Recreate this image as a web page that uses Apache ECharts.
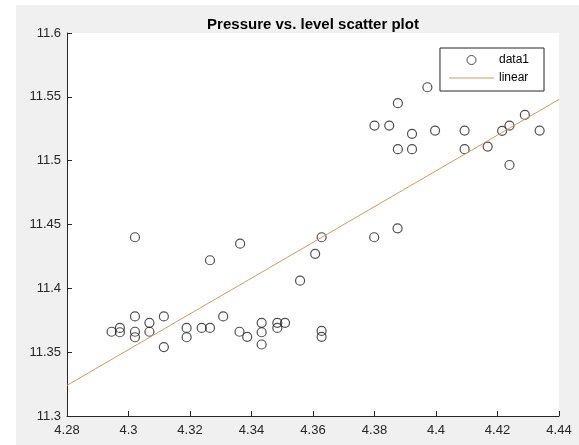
<!DOCTYPE html>
<html>
<head>
<meta charset="utf-8">
<script src="https://cdn.jsdelivr.net/npm/echarts@6/dist/echarts.min.js"></script>
<style>
    html, body { margin: 0; padding: 0; background: #fff; }
    #chart { position: absolute; left: 16px; top: 5px; width: 563px; height: 440px; }
</style>
</head>
<body>
<div id="chart"></div>
<script>
// level (x) vs pressure (y)
var levelData = [
    4.2945, 4.2972, 4.2972, 4.3021, 4.3021, 4.3021, 4.3021, 4.3068, 4.3068, 4.3115,
    4.3115, 4.3189, 4.3189, 4.3238, 4.3265, 4.3265, 4.3308, 4.3363, 4.3361, 4.3386,
    4.3433, 4.3433, 4.3433, 4.3484, 4.3484, 4.3509, 4.3558, 4.3607, 4.3628, 4.3628,
    4.3628, 4.3799, 4.3800, 4.3848, 4.3875, 4.3876, 4.3876, 4.3922, 4.3922, 4.3972,
    4.3997, 4.4093, 4.4093, 4.4168, 4.4215, 4.4239, 4.4239, 4.4289, 4.4337
];
var pressureData = [
    11.366, 11.369, 11.3656, 11.440, 11.378, 11.366, 11.3617, 11.373, 11.366, 11.378,
    11.354, 11.369, 11.3617, 11.369, 11.369, 11.422, 11.378, 11.435, 11.366, 11.362,
    11.373, 11.3656, 11.356, 11.373, 11.369, 11.373, 11.406, 11.427, 11.440, 11.3666,
    11.362, 11.440, 11.5275, 11.5275, 11.447, 11.545, 11.509, 11.521, 11.509, 11.5575,
    11.5236, 11.5236, 11.509, 11.511, 11.5234, 11.5275, 11.4966, 11.5358, 11.5236
];
// linear fit end points
var fitX = [4.28, 4.44];
var fitY = [11.324, 11.548];

var xTicks = { min: 4.28, max: 4.44, interval: 0.02 };
var yTicks = { min: 11.3, max: 11.6, interval: 0.05 };

var chart = echarts.init(document.getElementById('chart'));

var scatterPoints = levelData.map(function(x, i) {
    return [x, pressureData[i]];
});
var fitLine = fitX.map(function(x, i) {
    return [x, fitY[i]];
});

var axisColor = '#262626';
var font = 'Arial, "Liberation Sans", sans-serif';

var option = {
    backgroundColor: '#f0f0f0',
    animation: false,
    title: {
        text: 'Pressure vs. level scatter plot',
        left: 292,
        top: 7,
        textAlign: 'center',
        textStyle: { fontSize: 15, fontWeight: 'bold', color: '#000', fontFamily: font }
    },
    legend: {
        orient: 'vertical',
        right: 35,
        top: 43,
        itemWidth: 45,
        itemHeight: 9,
        itemGap: 6,
        padding: [6, 15, 7, 9],
        borderColor: '#262626',
        borderWidth: 1,
        backgroundColor: '#fff',
        textStyle: { fontSize: 12, color: '#000', fontFamily: font },
        data: [
            { name: 'data1', icon: 'circle', itemStyle: { borderWidth: 1 } },
            { name: 'linear', icon: 'path://M0,5L45,5L45,6L0,6Z' }
        ]
    },
    grid: {
        show: true,
        left: 51,
        right: 20,
        top: 28,
        bottom: 29,
        backgroundColor: '#fff',
        borderWidth: 0
    },
    xAxis: {
        type: 'value',
        min: xTicks.min,
        max: xTicks.max,
        interval: xTicks.interval,
        axisLine: { lineStyle: { color: axisColor, width: 1 } },
        axisTick: { inside: true, length: 5, lineStyle: { color: axisColor } },
        axisLabel: { color: axisColor, fontSize: 13, margin: 8, fontFamily: font },
        splitLine: { show: false }
    },
    yAxis: {
        type: 'value',
        min: yTicks.min,
        max: yTicks.max,
        interval: yTicks.interval,
        axisLine: { show: true, lineStyle: { color: axisColor, width: 1 } },
        axisTick: { show: true, inside: true, length: 5, lineStyle: { color: axisColor } },
        axisLabel: { color: axisColor, fontSize: 13, margin: 6, fontFamily: font },
        splitLine: { show: false }
    },
    series: [{
        name: 'data1',
        type: 'scatter',
        symbol: 'circle',
        symbolSize: 9,
        itemStyle: {
            color: 'rgba(0,0,0,0)',
            borderColor: '#222',
            borderWidth: 1.2
        },
        data: scatterPoints
    }, {
        name: 'linear',
        type: 'line',
        symbol: 'none',
        lineStyle: { color: '#d49a5a', width: 1 },
        itemStyle: { color: '#d49a5a' },
        data: fitLine
    }]
};

chart.setOption(option);
</script>
</body>
</html>
